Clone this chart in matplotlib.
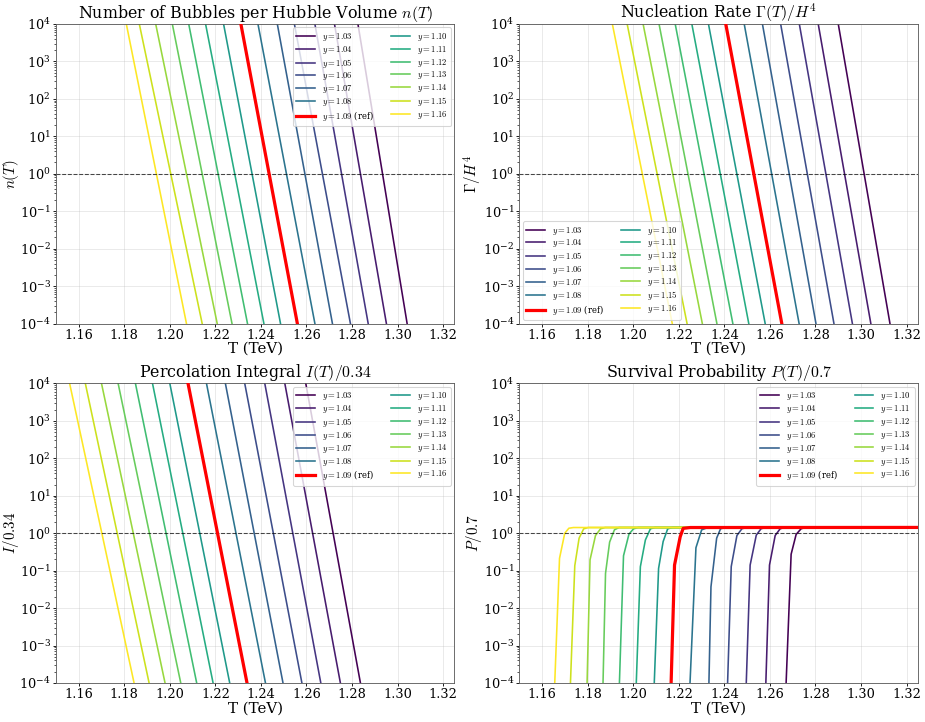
import numpy as np
import matplotlib
matplotlib.use("Agg")
import matplotlib.pyplot as plt

plt.rcParams['font.family'] = ['DejaVu Serif']
plt.rcParams['mathtext.fontset'] = 'cm'

# parameter values
y_vals = [1.03, 1.04, 1.05, 1.06, 1.07, 1.08, 1.09, 1.10, 1.11, 1.12, 1.13, 1.14, 1.15, 1.16]
ref_y = 1.09

# n(T): temperature where n = 1e4 (top) and n = 1e-4 (bottom)
n_T_top = [1.2826, 1.2723, 1.2637, 1.2547, 1.2472, 1.2387, 1.2312, 1.2236, 1.2157, 1.2083, 1.2011, 1.1938, 1.1866, 1.1809]
n_T_bot = [1.3042, 1.2951, 1.2871, 1.2793, 1.2714, 1.2637, 1.2560, 1.2486, 1.2413, 1.2341, 1.2273, 1.2208, 1.2142, 1.2073]

# Gamma/H^4
g_T_top = [1.2900, 1.2812, 1.2729, 1.2647, 1.2567, 1.2487, 1.2406, 1.2330, 1.2257, 1.2184, 1.2113, 1.2043, 1.1973, 1.1908]
g_T_bot = [1.3127, 1.3043, 1.2962, 1.2881, 1.2802, 1.2728, 1.2652, 1.2579, 1.2507, 1.2437, 1.2367, 1.2303, 1.2236, 1.2171]

# I/0.34
i_T_top = [1.2597, 1.2505, 1.2417, 1.2329, 1.2244, 1.2161, 1.2080, 1.2000, 1.1924, 1.1849, 1.1773, 1.1700, 1.1629, 1.1560]
i_T_bot = [1.2837, 1.2749, 1.2663, 1.2580, 1.2497, 1.2420, 1.2339, 1.2263, 1.2190, 1.2118, 1.2048, 1.1979, 1.1909, 1.1843]
line_top, line_bot = 1e4, 1e-4

# P/0.7 sampled points (T, value) per curve
p_T = [
    [1.2671, 1.2693, 1.2715, 1.2737, 1.2757, 1.33],
    [1.2582, 1.2598, 1.2623, 1.2645, 1.2665, 1.33],
    [1.2496, 1.2513, 1.2540, 1.2561, 1.2581, 1.33],
    [1.2414, 1.2430, 1.2455, 1.2477, 1.2497, 1.33],
    [1.2332, 1.2341, 1.2366, 1.2383, 1.2403, 1.33],
    [1.2249, 1.2275, 1.2300, 1.2319, 1.2339, 1.33],
    [1.2166, 1.2181, 1.2206, 1.2219, 1.2250, 1.33],
    [1.2092, 1.2111, 1.2131, 1.2151, 1.2171, 1.33],
    [1.2013, 1.2031, 1.2053, 1.2075, 1.2095, 1.33],
    [1.1939, 1.1957, 1.1981, 1.2001, 1.2021, 1.33],
    [1.1867, 1.1878, 1.1896, 1.1917, 1.1937, 1.33],
    [1.1797, 1.1810, 1.1834, 1.1856, 1.1876, 1.33],
    [1.1724, 1.1743, 1.1762, 1.1782, 1.1802, 1.33],
    [1.1655, 1.1676, 1.1699, 1.1717, 1.1737, 1.33],
]
p_val = [
    [1e-4, 0.275, 0.93, 1.32, 1.42, 1.4286],
    [1e-4, 0.141, 0.87, 1.32, 1.42, 1.4286],
    [1e-4, 0.141, 0.89, 1.32, 1.42, 1.4286],
    [1e-4, 0.129, 0.87, 1.32, 1.42, 1.4286],
    [1e-4, 0.037, 0.74, 1.31, 1.42, 1.4286],
    [1e-4, 0.41, 1.23, 1.36, 1.42, 1.4286],
    [1e-4, 0.141, 0.81, 1.35, 1.42, 1.4286],
    [1e-4, 0.115, 0.60, 1.31, 1.42, 1.4286],
    [1e-4, 0.128, 0.66, 1.31, 1.42, 1.4286],
    [1e-4, 0.25, 0.95, 1.31, 1.42, 1.4286],
    [1e-4, 0.085, 0.58, 1.23, 1.42, 1.4286],
    [1e-4, 0.195, 0.87, 1.31, 1.42, 1.4286],
    [1e-4, 0.136, 0.74, 1.31, 1.42, 1.4286],
    [1e-4, 0.214, 1.00, 1.36, 1.42, 1.4286],
]

titles = [r"Number of Bubbles per Hubble Volume $n(T)$",
          r"Nucleation Rate $\Gamma(T)/H^4$",
          r"Percolation Integral $I(T)/0.34$",
          r"Survival Probability $P(T)/0.7$"]
ylabels = [r"$n(T)$", r"$\Gamma/H^4$", r"$I/0.34$", r"$P/0.7$"]
legend_locs = ['upper right', 'lower left', 'upper right', 'upper right']

colors = plt.cm.viridis(np.linspace(0, 1, len(y_vals)))

fig, axes = plt.subplots(2, 2, figsize=(12, 722 / (925 / 12)), dpi=925 / 12)
fig.subplots_adjust(left=0.0605, right=0.9924, top=0.9668, bottom=0.054,
                    wspace=0.163, hspace=0.2)
axes = axes.ravel()

line_sets = [(n_T_top, n_T_bot), (g_T_top, g_T_bot), (i_T_top, i_T_bot)]

for k, ax in enumerate(axes):
    for j, yv in enumerate(y_vals):
        if k < 3:
            tt, tb = line_sets[k]
            xs = [tt[j], tb[j]]
            ys = [line_top, line_bot]
        else:
            xs = p_T[j]
            ys = p_val[j]
        if np.isclose(yv, ref_y):
            ax.plot(xs, ys, color='red', lw=3, zorder=5,
                    label=rf"$y={yv:.2f}$ (ref)")
        else:
            ax.plot(xs, ys, color=colors[j], lw=1.5, label=rf"$y={yv:.2f}$")
    ax.axhline(1.0, color='k', ls='--', lw=1, alpha=0.7)
    ax.set_yscale('log')
    ax.set_ylim(1e-4, 1e4)
    ax.set_xlim(1.15, 1.325)
    ax.set_xticks([1.16, 1.18, 1.20, 1.22, 1.24, 1.26, 1.28, 1.30, 1.32])
    ax.set_xticklabels([f"{v:.2f}" for v in ax.get_xticks()])
    ax.grid(True, alpha=0.3)
    ax.set_title(titles[k], fontsize=14.8, pad=4)
    ax.set_ylabel(ylabels[k], fontsize=14)
    ax.yaxis.set_label_coords(-0.088, 0.5)
    ax.set_xlabel("T (TeV)", fontsize=14, labelpad=0)
    ax.tick_params(labelsize=12, length=3, pad=2)
    ax.tick_params(which='minor', length=2)
    for sp in ax.spines.values():
        sp.set_color('0.35')
    ax.legend(loc=legend_locs[k], ncol=2, fontsize=8, handlelength=2.2,
              labelspacing=0.1, borderaxespad=0.4)

fig.savefig("out.png", dpi=925 / 12)
